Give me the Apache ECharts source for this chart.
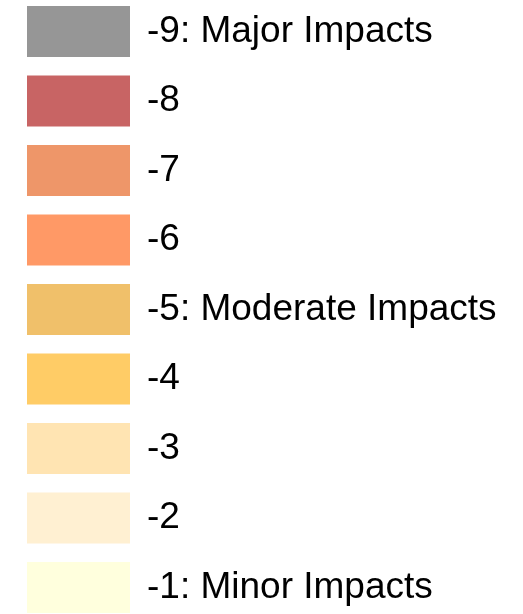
<!DOCTYPE html>
<html>
<head>
<meta charset="utf-8">
<style>
  html, body { margin: 0; padding: 0; background: #ffffff; }
  #chart { width: 523px; height: 614px; }
</style>
<script src="https://cdn.jsdelivr.net/npm/echarts@6/dist/echarts.min.js"></script>
</head>
<body>
<div id="chart"></div>
<script>
// Impact classes, from most to least severe
const impactLevels = ['-9: Major Impacts', '-8', '-7', '-6', '-5: Moderate Impacts', '-4', '-3', '-2', '-1: Minor Impacts'];
const impactColors = ['#969696', '#C86464', '#EE9669', '#FF9966', '#F0C06A', '#FFCC66', '#FFE4B2', '#FFF0D2', '#FFFFDD'];

const chart = echarts.init(document.getElementById('chart'), null, { renderer: 'canvas' });

chart.setOption({
  animation: false,
  color: impactColors,
  legend: {
    orient: 'vertical',
    left: 27,
    top: 6,
    padding: 0,
    itemWidth: 103,
    itemHeight: 51,
    itemGap: 18.5,
    icon: 'rect',
    selectedMode: false,
    data: impactLevels,
    textStyle: {
      fontFamily: '"Liberation Sans", Arial, sans-serif',
      fontSize: 37,
      color: '#000000',
      padding: [0, 0, 10, 12]
    }
  },
  series: [{
    type: 'pie',
    silent: true,
    radius: [0, 0],
    center: [-100, -100],
    label: { show: false },
    labelLine: { show: false },
    data: impactLevels.map((name, i) => ({ name: name, value: 1, itemStyle: { color: impactColors[i] } }))
  }]
});
</script>
</body>
</html>
